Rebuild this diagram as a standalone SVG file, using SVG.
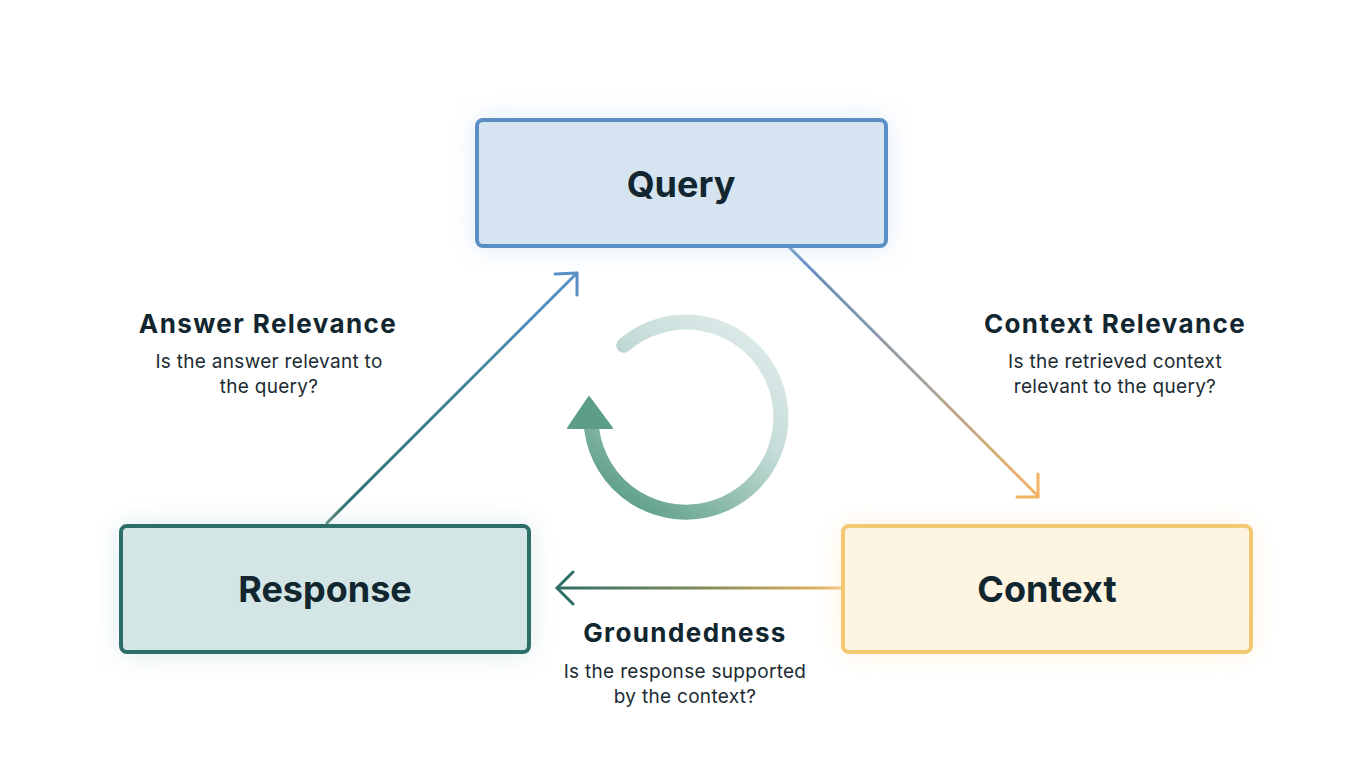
<svg xmlns="http://www.w3.org/2000/svg" width="1370" height="773" viewBox="0 0 1370 773">
<defs>
<filter id="glow" x="-20%" y="-40%" width="140%" height="180%"><feGaussianBlur stdDeviation="14"/></filter>
<linearGradient id="gAns" gradientUnits="userSpaceOnUse" x1="327" y1="523" x2="577" y2="273"><stop offset="0" stop-color="#2f6d68"/><stop offset="1" stop-color="#5a8fc6"/></linearGradient>
<linearGradient id="gCtx" gradientUnits="userSpaceOnUse" x1="790" y1="248" x2="1038" y2="497"><stop offset="0" stop-color="#5a8dc3"/><stop offset="0.5" stop-color="#a0a0a0"/><stop offset="1" stop-color="#f2b262"/></linearGradient>
<linearGradient id="gGnd" gradientUnits="userSpaceOnUse" x1="842" y1="0" x2="556" y2="0"><stop offset="0" stop-color="#f1b765"/><stop offset="0.5" stop-color="#7e8a58"/><stop offset="1" stop-color="#2e6e68"/></linearGradient>
<linearGradient id="gCyc" gradientUnits="userSpaceOnUse" x1="740" y1="330" x2="610" y2="500"><stop offset="0" stop-color="#dbe9e7"/><stop offset="0.35" stop-color="#c5dcd8"/><stop offset="1" stop-color="#5a9d85"/></linearGradient>
<style>
.title{font-family:Inter,"Noto Sans","Liberation Sans",sans-serif;font-weight:700;fill:#11262f;text-anchor:middle}
.node{font-size:36px}
.lbl{font-size:26px;letter-spacing:1.4px}
.sub{font-family:Inter,"Noto Sans","Liberation Sans",sans-serif;font-size:19px;letter-spacing:0.3px;fill:#1c2b32;text-anchor:middle}
.conn{fill:none;stroke-width:3;stroke-linecap:round;stroke-linejoin:round}
</style>
</defs>
<rect width="1370" height="773" fill="#ffffff"/>
<g id="connectors">
<line class="conn" x1="327" y1="523" x2="577" y2="273" stroke="url(#gAns)"/>
<polyline class="conn" points="555,274 577,273 577,295" stroke="#5a8fc6"/>
<line class="conn" x1="790" y1="248" x2="1038" y2="496" stroke="url(#gCtx)"/>
<polyline class="conn" points="1038,474 1038,497 1017,497" stroke="#f2b262"/>
<line class="conn" x1="842" y1="588" x2="557" y2="588" stroke="url(#gGnd)"/>
<polyline class="conn" points="573,572 557,588 573,604" stroke="#2e6e68"/>
</g>
<g id="query">
<rect x="477" y="120" width="409" height="126" rx="6" fill="#cfe0f2" filter="url(#glow)" opacity="0.8"/>
<rect x="477" y="120" width="409" height="126" rx="6" fill="#d6e4f1" stroke="#5b8ec4" stroke-width="4"/>
<text class="title node" x="681" y="197">Query</text>
</g>
<g id="response">
<rect x="121" y="526" width="408" height="126" rx="6" fill="#cfe2e0" filter="url(#glow)" opacity="0.8"/>
<rect x="121" y="526" width="408" height="126" rx="6" fill="#d3e5e4" stroke="#2e6e68" stroke-width="4"/>
<text class="title node" x="325" y="602">Response</text>
</g>
<g id="context">
<rect x="843" y="526" width="408" height="126" rx="6" fill="#fbecd0" filter="url(#glow)" opacity="0.8"/>
<rect x="843" y="526" width="408" height="126" rx="6" fill="#fdf4e1" stroke="#f2c873" stroke-width="4"/>
<text class="title node" x="1047" y="602">Context</text>
</g>
<g id="answer-relevance">
<text class="title lbl" x="268" y="333">Answer Relevance</text>
<text class="sub" x="269" y="368">Is the answer relevant to</text>
<text class="sub" x="269" y="393">the query?</text>
</g>
<g id="context-relevance">
<text class="title lbl" x="1115" y="333">Context Relevance</text>
<text class="sub" x="1115" y="368">Is the retrieved context</text>
<text class="sub" x="1115" y="393">relevant to the query?</text>
</g>
<g id="groundedness">
<text class="title lbl" x="685" y="642">Groundedness</text>
<text class="sub" x="685" y="678">Is the response supported</text>
<text class="sub" x="685" y="703">by the context?</text>
</g>
<g id="cycle">
<path d="M623.7,345.3 A95,95 0 1 1 591.7,429.6" fill="none" stroke="url(#gCyc)" stroke-width="15" stroke-linecap="round"/>
<polygon points="589,397 568,428 612,428" fill="#5c9e87" stroke="#5c9e87" stroke-width="2" stroke-linejoin="round"/>
</g>
</svg>
